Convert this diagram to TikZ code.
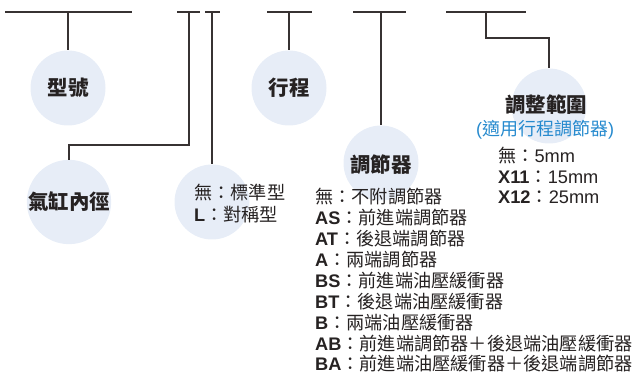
\documentclass[tikz,border=0pt]{standalone}
\usepackage{fontspec}
\setmainfont{Liberation Sans}
\newfontfamily\cjk{Noto Sans CJK TC}
\definecolor{ink}{RGB}{38,34,34}
\definecolor{wire}{RGB}{55,50,50}
\definecolor{bub}{RGB}{231,237,247}
\definecolor{note}{RGB}{38,138,206}
\newcommand{\optln}[2]{{\bfseries #1}{\cjk ：#2}}
\begin{document}
\begin{tikzpicture}[x=1pt,y=-1pt,
  bubble/.style={circle,fill=bub,minimum size=75pt,inner sep=0pt,text=ink,
    font=\cjk\bfseries\fontsize{20.5}{22}\selectfont},
  wireline/.style={draw=wire,line width=1.4pt},
  opt/.style={anchor=west,inner sep=0pt,text=ink,font=\fontsize{18.2}{20}\selectfont},
  titletext/.style={inner sep=0pt,text=ink,font=\cjk\bfseries\fontsize{20.5}{22}\selectfont},
  notetext/.style={inner sep=0pt,text=note,font=\fontsize{18}{20}\selectfont}]
\useasboundingbox (0,0) rectangle (640,374);
% bubbles
\node[bubble] (c1) at (68,88) {型號};
\node[bubble] (c2) at (69,202) {氣缸內徑};
\node[bubble] (c3) at (212,202) {};
\node[bubble] (c4) at (289,88) {行程};
\node[bubble] (c5) at (381,163) {};
\node[bubble] (c6) at (549,106) {};
\node[titletext] (t5) at (381,165) {調節器};
\node[titletext] (t6) at (546,105) {調整範圍};
\node[notetext] (n6) at (545,130) {({\cjk 適用行程調節器})};
% bars
\coordinate (b1a) at (5,12);   \coordinate (b1b) at (132,12); \coordinate (b1m) at (68,12);
\coordinate (b2a) at (177,12); \coordinate (b2b) at (200,12); \coordinate (b2m) at (189,12);
\coordinate (b3a) at (205,12); \coordinate (b3b) at (220,12); \coordinate (b3m) at (212,12);
\coordinate (b4a) at (267,12); \coordinate (b4b) at (312,12); \coordinate (b4m) at (289,12);
\coordinate (b5a) at (353,12); \coordinate (b5b) at (406,12); \coordinate (b5m) at (381,12);
\coordinate (b6a) at (446,12); \coordinate (b6b) at (526,12); \coordinate (b6m) at (486,12);
\coordinate (k2) at (0,145);
\coordinate (k6) at (0,38);
\draw[wireline] (b1a) -- (b1b);
\draw[wireline] (b2a) -- (b2b);
\draw[wireline] (b3a) -- (b3b);
\draw[wireline] (b4a) -- (b4b);
\draw[wireline] (b5a) -- (b5b);
\draw[wireline] (b6a) -- (b6b);
\draw[wireline] (b1m) -- (c1.north);
\draw[wireline] (b2m) -- (b2m |- k2) -- (c2.north |- k2) -- (c2.north);
\draw[wireline] (b3m) -- (c3.north);
\draw[wireline] (b4m) -- (c4.north);
\draw[wireline] (b5m) -- (c5.north);
\draw[wireline] (b6m) -- (b6m |- k6) -- (c6.north |- k6) -- (c6.north);
% middle list
\node[opt] (m1) at (194,193) {\cjk 無：標準型};
\node[opt] (m2) at (194,215) {\optln{L}{對稱型}};
% right list
\node[opt] (r1) at (498,156) {{\cjk 無：}5mm};
\node[opt] (r2) at (498,177) {{\bfseries X11}{\cjk ：}15mm};
\node[opt] (r3) at (498,197) {{\bfseries X12}{\cjk ：}25mm};
% left list
\node[opt] (l1) at (315,197) {\cjk 無：不附調節器};
\node[opt] (l2) at (315,218) {\optln{AS}{前進端調節器}};
\node[opt] (l3) at (315,239) {\optln{AT}{後退端調節器}};
\node[opt] (l4) at (315,260) {\optln{A}{兩端調節器}};
\node[opt] (l5) at (315,281) {\optln{BS}{前進端油壓緩衝器}};
\node[opt] (l6) at (315,302) {\optln{BT}{後退端油壓緩衝器}};
\node[opt] (l7) at (315,323) {\optln{B}{兩端油壓緩衝器}};
\node[opt] (l8) at (315,344) {\optln{AB}{前進端調節器＋後退端油壓緩衝器}};
\node[opt] (l9) at (315,364) {\optln{BA}{前進端油壓緩衝器＋後退端調節器}};
\end{tikzpicture}
\end{document}
